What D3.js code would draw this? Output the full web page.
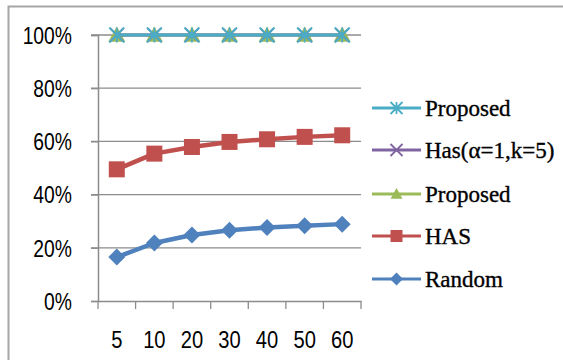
<!DOCTYPE html>
<html><head><meta charset="utf-8">
<script src="https://cdn.jsdelivr.net/npm/d3@7"></script>
<style>
html,body{margin:0;padding:0;background:#fff;}
svg{display:block;}
</style>
</head><body>
<script>
const categories = ["5","10","20","30","40","50","60"];
const randomVals = [0.165, 0.218, 0.248, 0.266, 0.276, 0.283, 0.289];
const hasVals    = [0.495, 0.554, 0.579, 0.598, 0.608, 0.617, 0.623];
const proposedGreenVals = [1, 1, 1, 1, 1, 1, 1];
const hasAlphaVals = [1, 1, 1, 1, 1, 1, 1];
const proposedCyanVals = [1, 1, 1, 1, 1, 1, 1];
const yTicks = [0, 0.2, 0.4, 0.6, 0.8, 1.0];
const legendNames = ["Proposed", "Has(\u03b1=1,k=5)", "Proposed", "HAS", "Random"];

const axisFont = "'Liberation Sans'";
const legendFont = "'Liberation Serif'";

const W = 563, H = 360;
const svg = d3.select("body").append("svg").attr("width", W).attr("height", H);

// outer frame
svg.append("path").attr("d", "M8.5,370 L8.5,6.5 L580,6.5")
  .attr("fill","none").attr("stroke","#a6a6a6").attr("stroke-width",2);

const x = d3.scaleBand().domain(categories).range([98, 361]);
const y = d3.scaleLinear().domain([0, 1]).range([301, 35]);

const grid = "#8c8c8c";
// gridlines
svg.append("g").selectAll("line").data(yTicks.filter(d => d > 0)).join("line")
  .attr("x1", 91).attr("x2", 361).attr("y1", d => y(d)).attr("y2", d => y(d))
  .attr("stroke", grid).attr("stroke-width", 1.3);

// y axis
const yAxis = d3.axisLeft(y).tickValues(yTicks).tickSize(7).tickFormat(d3.format(".0%"));
const gy = svg.append("g").attr("transform", "translate(98,0)").call(yAxis);
gy.attr("font-family", null).attr("font-size", null);
gy.select(".domain").attr("stroke", grid).attr("stroke-width", 1.5);
gy.selectAll(".tick line").attr("stroke", grid).attr("stroke-width", 1.3);
gy.selectAll(".tick text").style("font-family", axisFont)
  .style("font-size", "23px").attr("fill","#000")
  .attr("x", 0).attr("dy", "0.36em").attr("transform", "translate(-26,0) scale(0.84,1)");

// x axis
const xAxis = d3.axisBottom(x).tickSize(0);
const gx = svg.append("g").attr("transform", "translate(0,301)").call(xAxis);
gx.attr("font-family", null).attr("font-size", null);
gx.select(".domain").attr("stroke", grid).attr("stroke-width", 1.5);
gx.selectAll(".tick line").remove();
gx.selectAll(".tick text").style("font-family", axisFont)
  .style("font-size", "24px").attr("fill","#000").attr("y", 0).attr("dy", 0)
  .attr("transform", "translate(0,47) scale(0.84,1)");
// category boundary tick marks
const bounds = categories.map(c => x(c)).concat([x(categories[categories.length-1]) + x.bandwidth()]);
svg.append("g").selectAll("line").data(bounds).join("line")
  .attr("x1", d => d).attr("x2", d => d).attr("y1", 301).attr("y2", 309)
  .attr("stroke", grid).attr("stroke-width", 1.3);

const cx = c => x(c) + x.bandwidth() / 2;
const line = d3.line().x((d,i) => cx(categories[i])).y(d => y(d));

function marker(g, type, color, px, py, s) {
  if (type === "diamond") {
    g.append("path").attr("d", `M${px},${py-s} L${px+s},${py} L${px},${py+s} L${px-s},${py} Z`).attr("fill", color);
  } else if (type === "square") {
    g.append("rect").attr("x", px-s).attr("y", py-s).attr("width", 2*s).attr("height", 2*s).attr("fill", color);
  } else if (type === "triangle") {
    g.append("path").attr("d", `M${px},${py-s} L${px+s},${py+s*0.8} L${px-s},${py+s*0.8} Z`).attr("fill", color);
  } else if (type === "x") {
    g.append("path").attr("d", `M${px-s},${py-s} L${px+s},${py+s} M${px-s},${py+s} L${px+s},${py-s}`)
      .attr("stroke", color).attr("stroke-width", 1.8).attr("fill","none");
  } else if (type === "asterisk") {
    g.append("path").attr("d", `M${px-s},${py-s} L${px+s},${py+s} M${px-s},${py+s} L${px+s},${py-s} M${px},${py-s} L${px},${py+s}`)
      .attr("stroke", color).attr("stroke-width", 1.8).attr("fill","none");
  }
}

const series = [
  {vals: randomVals, color: "#4f81bd", type: "diamond", size: 8.5, lw: 4.5},
  {vals: hasVals, color: "#c0504d", type: "square", size: 8, lw: 4.5},
  {vals: proposedGreenVals, color: "#9bbb59", type: "triangle", size: 8.5, lw: 3},
  {vals: hasAlphaVals, color: "#8064a2", type: "x", size: 6.5, lw: 3},
  {vals: proposedCyanVals, color: "#4bacc6", type: "asterisk", size: 7.5, lw: 3}
];

series.forEach(s => {
  const g = svg.append("g");
  g.append("path").datum(s.vals).attr("d", line).attr("fill","none")
    .attr("stroke", s.color).attr("stroke-width", s.lw).attr("stroke-linejoin","round");
  s.vals.forEach((v,i) => marker(g, s.type, s.color, cx(categories[i]), y(v), s.size));
});

// legend (reverse order of series)
const legendSeries = [series[4], series[3], series[2], series[1], series[0]];
const legendY = [108, 150, 194, 236, 279];
legendSeries.forEach((s, i) => {
  const g = svg.append("g");
  const ly = legendY[i];
  g.append("line").attr("x1", 372).attr("x2", 421).attr("y1", ly).attr("y2", ly)
    .attr("stroke", s.color).attr("stroke-width", 3);
  marker(g, s.type, s.color, 396.5, ly, s.type === "square" ? 6 : (s.type === "diamond" ? 6.5 : 6));
  g.append("text").style("font-family", legendFont)
    .style("font-size", "23px").attr("fill","#000").attr("stroke","#000").attr("stroke-width",0.35)
    .attr("x", 425).attr("y", ly).attr("dy","0.33em").text(legendNames[i]);
});
</script>
</body></html>
